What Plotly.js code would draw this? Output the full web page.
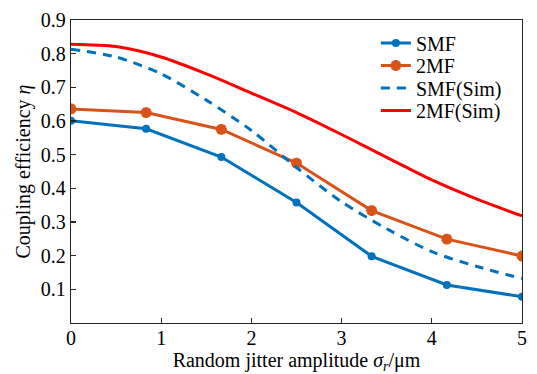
<!DOCTYPE html>
<html>
<head>
<meta charset="utf-8">
<script src="https://cdn.plot.ly/plotly-3.0.1.min.js"></script>
<style>html,body{margin:0;padding:0;background:#fff;}#chart{width:537px;height:374px;}</style>
</head>
<body>
<div id="chart"></div>
<script>
// Measured data (markers)
const jitter = [0, 0.833, 1.667, 2.5, 3.333, 4.167, 5];
const smf = [0.601, 0.577, 0.493, 0.358, 0.198, 0.113, 0.078];
const twoMf = [0.636, 0.625, 0.575, 0.475, 0.334, 0.249, 0.199];
// Simulated curves
const simX = [0, 0.5, 1, 1.5, 2, 2.5, 3, 3.5, 4, 4.5, 5];
const smfSim = [0.813, 0.79, 0.74, 0.662, 0.572, 0.462, 0.36, 0.28, 0.212, 0.168, 0.132];
const twoMfSim = [0.828, 0.821, 0.79, 0.74, 0.683, 0.625, 0.56, 0.492, 0.425, 0.368, 0.318];
const yTicks = [0.1, 0.2, 0.3, 0.4, 0.5, 0.6, 0.7, 0.8, 0.9];
const xTicks = [0, 1, 2, 3, 4, 5];
const names = ['SMF', '2MF', 'SMF(Sim)', '2MF(Sim)'];

const blue = '#0072BD', orange = '#D95319', red = '#FF0000';
const font = 'Liberation Serif';
const fs = 20;

const traces = [
  {x: jitter, y: smf, name: names[0], mode: 'lines+markers', legend: 'legend',
   line: {color: blue, width: 3}, marker: {symbol: 'circle', size: 8, color: blue}},
  {x: jitter, y: twoMf, name: names[1], mode: 'lines+markers', legend: 'legend2',
   line: {color: orange, width: 3},
   marker: {symbol: 'asterisk-open', size: 9, color: orange, line: {color: orange, width: 3.5}}},
  {x: simX, y: smfSim, name: names[2], mode: 'lines', legend: 'legend3',
   line: {color: blue, width: 3, dash: '9px,7px', shape: 'spline', smoothing: 0.8}},
  {x: simX, y: twoMfSim, name: names[3], mode: 'lines', legend: 'legend4',
   line: {color: red, width: 3, shape: 'spline', smoothing: 0.8}}
];

const axisCommon = {
  showgrid: false, zeroline: false, showline: true, mirror: true,
  linecolor: '#262626', linewidth: 1.3,
  ticks: 'inside', ticklen: 5, tickwidth: 1.3, tickcolor: '#262626',
  tickfont: {family: font, size: fs, color: '#000'}
};

const legendRowY = [43, 65.5, 88, 110.5];
function legendAt(py) {
  return {x: 0.676, y: 1 - (py - 20) / 303, xanchor: 'left', yanchor: 'middle',
    bgcolor: 'rgba(0,0,0,0)', font: {family: font, size: fs, color: '#000'}};
}

const layout = {
  width: 537, height: 374,
  margin: {l: 70.5, r: 14.5, t: 20, b: 51},
  paper_bgcolor: '#fff', plot_bgcolor: '#fff',
  font: {family: font, color: '#000'},
  showlegend: true,
  legend: legendAt(legendRowY[0]),
  legend2: legendAt(legendRowY[1]),
  legend3: legendAt(legendRowY[2]),
  legend4: legendAt(legendRowY[3]),
  xaxis: Object.assign({}, axisCommon, {
    range: [0, 5], tickvals: xTicks, ticktext: xTicks.map(String), ticklabelstandoff: -3,
    title: {text: 'Random jitter amplitude <i>σ</i><sub><i>r</i></sub>/μm', font: {family: font, size: fs, color: '#000'}, standoff: 1}
  }),
  yaxis: Object.assign({}, axisCommon, {
    range: [0, 0.9], tickvals: yTicks, ticktext: yTicks.map(v => v.toFixed(1)),
    title: {text: 'Coupling efficiency <i>η</i>', font: {family: font, size: fs, color: '#000'}, standoff: 4}
  })
};

Plotly.newPlot('chart', traces, layout, {displayModeBar: false, staticPlot: true});
</script>
</body>
</html>
